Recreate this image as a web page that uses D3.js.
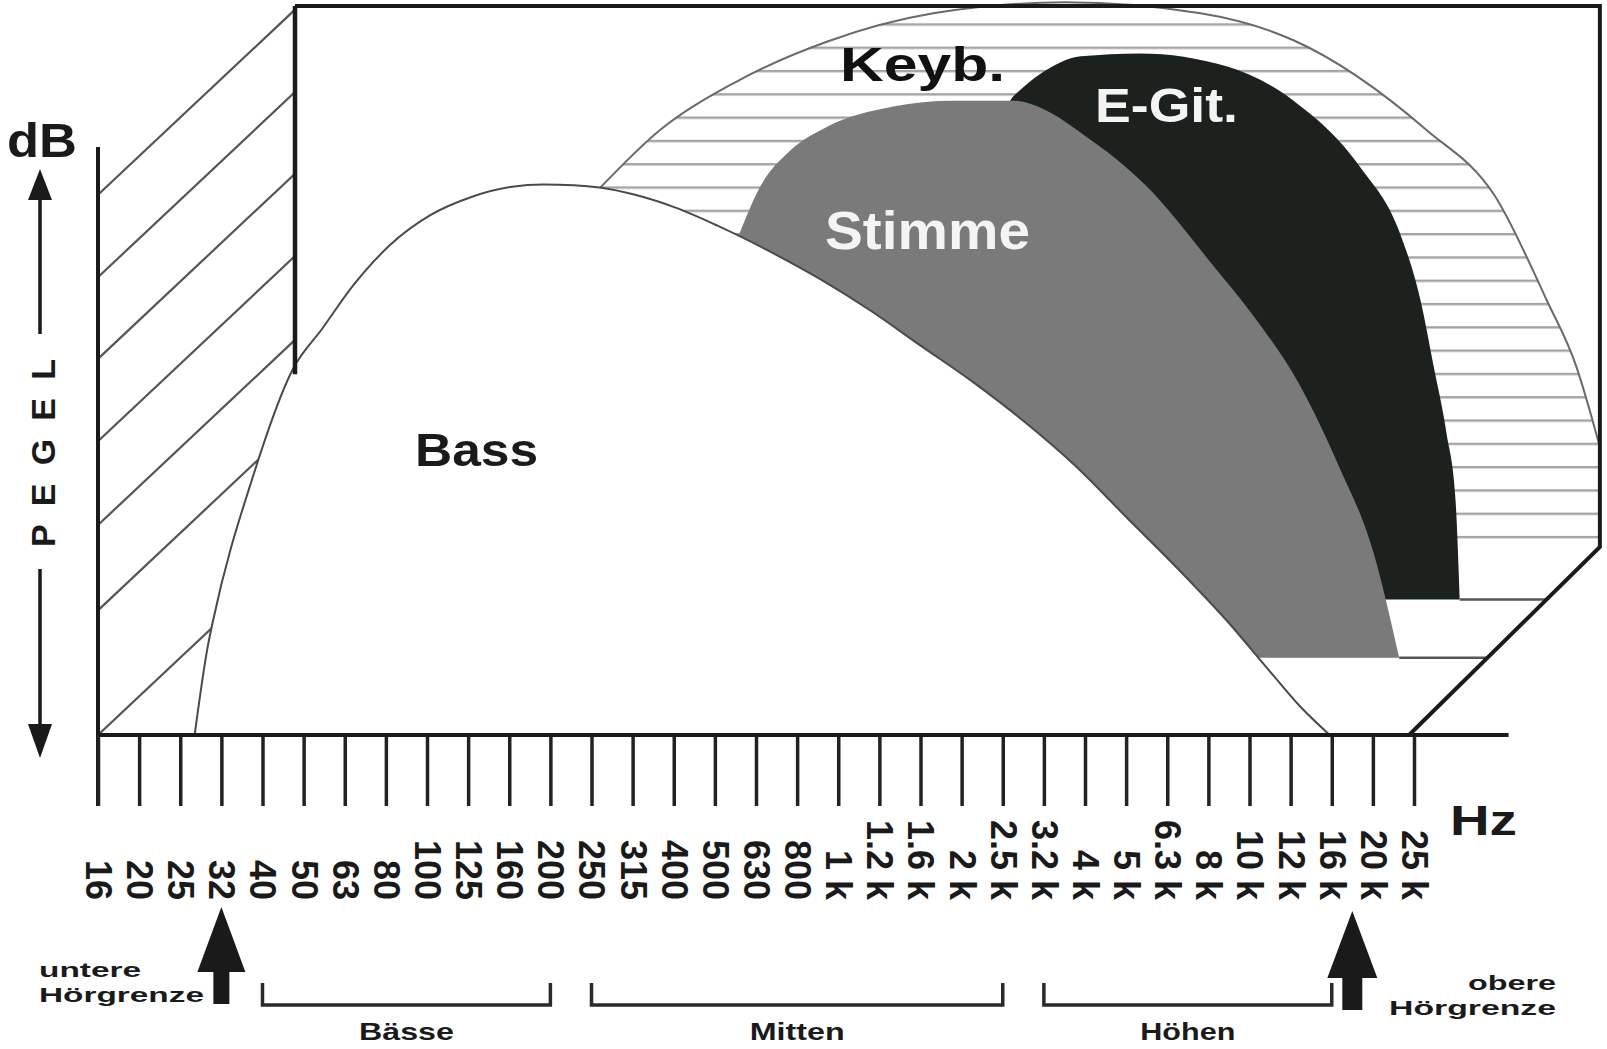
<!DOCTYPE html>
<html lang="de">
<head>
<meta charset="utf-8">
<title>Frequenzbereiche der Instrumente</title>
<script src="https://cdn.jsdelivr.net/npm/d3@7"></script>
<style>
  html, body { margin: 0; padding: 0; background: #fff; }
  #chart { width: 1607px; height: 1049px; }
  text { font-family: "Liberation Sans", Arial, sans-serif; font-weight: bold; }
</style>
</head>
<body>
<div id="chart"></div>
<script>
// Terzband-Frequenzen der x-Achse
const bandLabels = ["16", "20", "25", "32", "40", "50", "63", "80", "100", "125", "160", "200",
  "250", "315", "400", "500", "630", "800", "1 k", "1.2 k", "1.6 k", "2 k", "2.5 k", "3.2 k",
  "4 k", "5 k", "6.3 k", "8 k", "10 k", "12 k", "16 k", "20 k", "25 k"];

// Kurven als [Bandindex, Pegel 0..100]
const bassCurve = [[2.35, 0], [2.67, 12.2], [2.79, 15.5], [3.77, 35.5], [4.74, 50.2], [5.46, 55.8],
  [6.21, 61.7], [7.08, 67.1], [8.08, 71.3], [9.08, 73.8], [10.07, 75.2], [10.82, 75.5], [11.57, 75.4],
  [12.19, 75.1], [13.06, 74.1], [14.06, 72.3], [15.05, 69.9], [16.55, 65.7], [17.54, 62.6],
  [18.79, 58.2], [20.03, 53.3], [21.28, 48.4], [22.52, 43.0], [23.77, 36.9], [25.02, 29.8],
  [26.26, 22.8], [27.51, 15.3], [28.5, 8.7], [29.25, 3.8], [29.95, 0]];

const stimmeCurve = [[15.60, 68.8], [16.10, 75.2], [16.80, 80.0], [17.72, 83.4], [19.34, 86.2],
  [20.78, 87.0], [22.25, 87.0], [23.15, 85.4], [23.90, 82.6], [25.51, 75.2], [27.13, 64.3],
  [28.08, 57.6], [29.20, 48.2], [30.17, 36.9], [31.0, 25.3], [31.64, 10.6]];
const stimmeHidden = [[27.0, 10.6], [15.43, 64.3]];

const egitCurve = [[22.25, 87.6], [22.92, 90.7], [23.90, 93.1], [25.34, 93.5], [27.46, 91.7],
  [29.07, 87.0], [30.69, 77.9], [31.66, 68.8], [32.16, 59.6], [32.48, 50.5], [32.79, 41.4],
  [33.01, 32.2], [33.11, 18.6]];
const egitHidden = [[30.0, 18.6], [21.28, 79.7]];

const keybCurve = [[12.19, 74.95], [13.66, 82.96], [15.45, 89.4], [17.72, 95.1], [20.31, 99.0],
  [23.52, 100.5], [26.81, 99.0], [29.07, 95.3], [32.31, 82.96], [33.96, 74.0], [35.23, 59.6],
  [35.95, 50.5], [36.32, 43.6], [36.52, 39.5]];
const keybHidden = [[36.52, 25.8], [32.5, 25.8], [27, 20], [20, 30], [12.5, 60]];

// Rahmen: oben, rechts, Schräge
const frameOutline = [[4.79, 100], [36.52, 100], [36.52, 25.8], [31.88, 0]];
const frameLeft = [[4.79, 100], [4.79, 49.5]];

// Schraffur links (Pegel am y-Achsen-Schnittpunkt)
const pegelHatch = [74.1, 62.8, 51.6, 40.3, 28.8, 17.1, 0];

// Bereiche unter der Achse
const rangeNames = ["Bässe", "Mitten", "Höhen"];
const rangeFrom = ["40", "250", "3.2 k"];
const rangeTo = ["200", "2.5 k", "16 k"];

function render() {
  const width = 1607, height = 1049;
  const svg = d3.select("#chart").append("svg")
    .attr("width", width).attr("height", height);

  const x = d3.scaleLinear().domain([0, bandLabels.length - 1]).range([98, 1414]);
  const xBand = d3.scalePoint().domain(bandLabels).range([98, 1414]);
  const y = d3.scaleLinear().domain([0, 100]).range([735, 6]);

  const smooth = d3.line().x(d => x(d[0])).y(d => y(d[1])).curve(d3.curveMonotoneX);
  const straight = d3.line().x(d => x(d[0])).y(d => y(d[1]));
  const shape = (outline, hidden) => smooth(outline) + straight(hidden).replace("M", "L") + "Z";

  const defs = svg.append("defs");
  const pat = defs.append("pattern").attr("id", "keybHatch")
    .attr("patternUnits", "userSpaceOnUse").attr("width", 20).attr("height", 23.3);
  pat.append("rect").attr("width", 20).attr("height", 23.3).attr("fill", "#fff");
  pat.append("rect").attr("width", 20).attr("height", 2.4).attr("fill", "#a4a4a4");

  defs.append("clipPath").attr("id", "leftZone")
    .append("rect").attr("x", x(0)).attr("y", 0)
    .attr("width", x(frameLeft[0][0]) - x(0)).attr("height", y(0));

  // diagonale Schraffur links
  svg.append("g").attr("clip-path", "url(#leftZone)")
    .selectAll("line").data(pegelHatch).join("line")
    .attr("x1", x(0)).attr("y1", d => y(d))
    .attr("x2", x(frameLeft[0][0]) + 10)
    .attr("y2", d => y(d) - 0.94 * (x(frameLeft[0][0]) + 10 - x(0)))
    .attr("stroke", "#555").attr("stroke-width", 2.2);

  // Keyboard (waagerecht schraffiert)
  svg.append("path").attr("d", shape(keybCurve, keybHidden)).attr("fill", "url(#keybHatch)");
  svg.append("path").attr("d", smooth(keybCurve))
    .attr("fill", "none").attr("stroke", "#6a6a6a").attr("stroke-width", 2);

  // E-Gitarre
  svg.append("path").attr("d", shape(egitCurve, egitHidden)).attr("fill", "#1d211d");

  // Stimme
  svg.append("path").attr("d", shape(stimmeCurve, stimmeHidden)).attr("fill", "#7a7a7a");

  // Verlängerungslinien bis zur Schräge
  const diag = lvl => frameOutline[3][0] + (lvl / frameOutline[2][1]) * (frameOutline[2][0] - frameOutline[3][0]);
  const egitEnd = egitCurve[egitCurve.length - 1];
  const stimmeEnd = stimmeCurve[stimmeCurve.length - 1];
  [egitEnd, stimmeEnd].forEach(p => {
    svg.append("line")
      .attr("x1", x(p[0])).attr("y1", y(p[1]))
      .attr("x2", x(diag(p[1]))).attr("y2", y(p[1]))
      .attr("stroke", "#555").attr("stroke-width", 2.5);
  });

  // Bass
  svg.append("path").attr("d", smooth(bassCurve) + "Z").attr("fill", "#fff");
  svg.append("path").attr("d", smooth(bassCurve))
    .attr("fill", "none").attr("stroke", "#4a4a4a").attr("stroke-width", 2);

  // Rahmen
  svg.append("path").attr("d", straight(frameOutline))
    .attr("fill", "none").attr("stroke", "#1a1a1a").attr("stroke-width", 4);
  svg.append("path").attr("d", straight(frameLeft))
    .attr("fill", "none").attr("stroke", "#1a1a1a").attr("stroke-width", 4.5);

  // Achsen
  svg.append("line").attr("x1", x(0)).attr("x2", x(0)).attr("y1", 147).attr("y2", y(0) + 71)
    .attr("stroke", "#1a1a1a").attr("stroke-width", 4);

  const axisG = svg.append("g").attr("transform", `translate(0,${y(0)})`)
    .call(d3.axisBottom(xBand).tickSize(71).tickSizeOuter(0));
  axisG.select(".domain").remove();
  axisG.selectAll(".tick line").attr("stroke", "#222").attr("stroke-width", 3.5);
  axisG.selectAll(".tick text")
    .attr("x", 0).attr("y", 0).attr("dy", "0.35em")
    .attr("transform", "translate(0,165) rotate(90)")
    .attr("text-anchor", "end")
    .attr("font-size", 36).attr("font-weight", "bold")
    .attr("fill", "#1a1a1a");

  svg.append("line").attr("x1", x(0)).attr("x2", x(34.3)).attr("y1", y(0)).attr("y2", y(0))
    .attr("stroke", "#1a1a1a").attr("stroke-width", 4);

  // Beschriftungen im Diagramm
  const label = (t, px, py, fs, w, fill, anchor) => svg.append("text")
    .attr("x", px).attr("y", py).attr("font-size", fs)
    .attr("textLength", w).attr("lengthAdjust", "spacingAndGlyphs")
    .attr("text-anchor", anchor || "start")
    .attr("fill", fill).text(t);

  label("Keyb.", 840, 81, 48, 165, "#111");
  label("E-Git.", 1095, 122, 48, 143, "#f4f4f4");
  label("Stimme", 825, 249, 53, 205, "#f4f4f4");
  label("Bass", 415, 466, 47, 123, "#1a1a1a");
  label("dB", 7, 157, 48, 70, "#1a1a1a");
  label("Hz", 1450, 835, 42, 67, "#1a1a1a");

  // PEGEL mit Pfeilen
  svg.append("text").attr("transform", "translate(55,453) rotate(-90)")
    .attr("text-anchor", "middle").attr("font-size", 34)
    .attr("textLength", 188).attr("lengthAdjust", "spacing")
    .attr("fill", "#1a1a1a").text("PEGEL");
  const ax = 40;
  svg.append("line").attr("x1", ax).attr("x2", ax).attr("y1", 196).attr("y2", 334)
    .attr("stroke", "#1a1a1a").attr("stroke-width", 3.5);
  svg.append("path").attr("d", `M${ax},169 L${ax + 12},200 L${ax - 12},200 Z`).attr("fill", "#1a1a1a");
  svg.append("line").attr("x1", ax).attr("x2", ax).attr("y1", 569).attr("y2", 728)
    .attr("stroke", "#1a1a1a").attr("stroke-width", 3.5);
  svg.append("path").attr("d", `M${ax},758 L${ax + 12},724 L${ax - 12},724 Z`).attr("fill", "#1a1a1a");

  // Bereichsklammern
  rangeNames.forEach((name, i) => {
    const x0 = xBand(rangeFrom[i]), x1 = xBand(rangeTo[i]);
    svg.append("path").attr("d", `M${x0},983 V1005 H${x1} V983`)
      .attr("fill", "none").attr("stroke", "#2a2a2a").attr("stroke-width", 3.5);
    label(name, (x0 + x1) / 2, 1040, 24, 95, "#1a1a1a", "middle");
  });

  // Hörgrenzen
  const arrow = (cx, tip, base, hw, shw, bottom) =>
    `M${cx},${tip} L${cx + hw},${base} L${cx + shw},${base} L${cx + shw},${bottom} ` +
    `L${cx - shw},${bottom} L${cx - shw},${base} L${cx - hw},${base} Z`;
  svg.append("path").attr("d", arrow(xBand("32"), 907, 972, 24, 8, 1004)).attr("fill", "#1a1a1a");
  svg.append("path").attr("d", arrow((xBand("16 k") + xBand("20 k")) / 2, 911, 978, 25, 10, 1010))
    .attr("fill", "#1a1a1a");

  label("untere", 39, 977, 21, 102, "#1a1a1a");
  label("Hörgrenze", 39, 1002, 21, 165, "#1a1a1a");
  label("obere", 1556, 990, 21, 88, "#1a1a1a", "end");
  label("Hörgrenze", 1556, 1015, 21, 167, "#1a1a1a", "end");
}

document.addEventListener("DOMContentLoaded", render);
</script>
</body>
</html>
